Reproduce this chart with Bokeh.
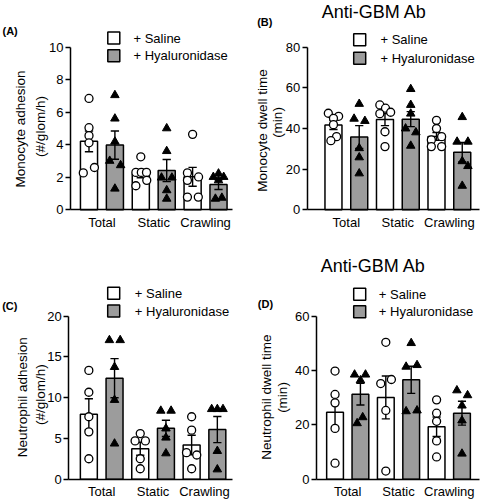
from bokeh.plotting import figure
from bokeh.models import Range1d, Label, LinearAxis, FixedTicker
from bokeh.layouts import row, column
from bokeh.embed import file_html
from bokeh.resources import INLINE

FONT = "Liberation Sans"
GRAY = "#9c9c9c"

groups = ["Total", "Static", "Crawling"]
series = ["+ Saline", "+ Hyaluronidase"]
title_text = "Anti-GBM Ab"

# ---------------- Panel A: Monocyte adhesion (#/glom/h)
a_sal_mean = [4.21, 2.22, 2.03]
a_sal_sem = [0.64, 0.25, 0.58]
a_hya_mean = [3.98, 2.41, 1.55]
a_hya_sem = [0.87, 0.68, 0.30]
a_sal_pts = [[6.85, 5.05, 4.56, 4.12, 2.60, 2.27],
             [3.26, 2.30, 2.30, 2.30, 1.81, 1.48],
             [4.64, 2.27, 2.02, 1.81, 0.78, 0.78]]
a_hya_pts = [[7.05, 5.61, 4.19, 3.01, 2.74, 1.30],
             [5.01, 3.61, 1.98, 1.98, 1.20, 0.68],
             [2.23, 2.02, 2.02, 1.81, 0.74, 0.68]]
a_yticks = [0, 2, 4, 6, 8, 10]

# ---------------- Panel B: Monocyte dwell time (min)
b_sal_mean = [41.7, 44.4, 36.1]
b_sal_sem = [2.2, 3.0, 1.9]
b_hya_mean = [35.8, 44.6, 28.3]
b_hya_sem = [5.6, 3.7, 4.8]
b_sal_pts = [[47.5, 46.0, 45.0, 41.9, 36.0, 34.0],
             [51.6, 50.0, 48.0, 47.3, 38.4, 31.1],
             [44.0, 40.0, 36.0, 34.4, 31.1, 31.1]]
b_hya_pts = [[52.1, 44.8, 43.7, 30.3, 25.8, 17.9],
             [59.4, 51.6, 47.3, 40.0, 38.1, 31.5],
             [45.6, 33.5, 33.5, 23.9, 21.5, 11.8]]
b_yticks = [0, 20, 40, 60, 80]

# ---------------- Panel C: Neutrophil adhesion (#/glom/h)
c_sal_mean = [7.97, 3.74, 4.20]
c_sal_sem = [1.9, 0.8, 1.2]
c_hya_mean = [12.39, 6.24, 6.09]
c_hya_sem = [2.4, 1.0, 1.6]
c_sal_pts = [[13.35, 10.67, 7.66, 5.81, 2.51],
             [5.60, 4.70, 4.70, 2.51, 1.28],
             [7.66, 6.02, 3.26, 2.97, 1.28]]
c_hya_pts = [[17.06, 17.06, 13.76, 9.72, 4.37],
             [8.40, 8.40, 6.22, 5.10, 3.17],
             [8.60, 8.60, 8.60, 3.46, 1.20]]
c_yticks = [0, 5, 10, 15, 20]

# ---------------- Panel D: Neutrophil dwell time (min)
d_sal_mean = [24.6, 30.1, 19.3]
d_sal_sem = [5.8, 7.9, 3.6]
d_hya_mean = [31.3, 36.6, 24.3]
d_hya_sem = [4.0, 5.0, 4.4]
d_sal_pts = [[39.8, 31.2, 28.1, 18.7, 5.9],
             [50.4, 36.7, 35.2, 25.3, 3.0],
             [29.2, 24.3, 21.3, 14.1, 8.2]]
d_hya_pts = [[38.5, 38.5, 36.4, 22.8, 20.6],
             [50.1, 42.0, 41.4, 25.3, 25.0],
             [32.7, 30.9, 27.1, 21.6, 9.4]]
d_yticks = [0, 20, 40, 60]

# horizontal scatter of the dots inside each bar (style, in bar-slot units)
a_sal_jit = [[0, 0, 0, 0, 0.21, -0.22], [0, -0.19, 0.02, 0.22, 0.23, -0.19], [0, -0.2, 0.23, -0.2, -0.2, 0.22]]
a_hya_jit = [[0, 0, 0, -0.2, 0.22, 0], [0, 0, -0.2, 0.2, 0, 0], [0, -0.2, 0.2, 0, 0.13, -0.12]]
b_sal_jit = [[-0.2, 0.2, 0.0, 0.0, 0.12, -0.1], [-0.2, 0.02, 0.22, -0.2, 0, 0], [0, 0, 0.2, -0.2, -0.2, 0.2]]
b_hya_jit = [[0, -0.2, 0.22, 0, 0, 0], [0, 0, 0, -0.2, 0.2, 0], [0, -0.2, 0.22, 0, 0.22, 0]]
c_sal_jit = [[0, 0, 0, 0, 0], [0, -0.2, 0.2, 0, 0], [0, 0, -0.2, 0.2, 0]]
c_hya_jit = [[-0.2, 0.22, 0, 0, 0], [-0.2, 0.2, 0, 0, 0], [-0.22, 0, 0.22, 0, 0]]
d_sal_jit = [[0, 0, 0, 0, 0], [0, 0.22, -0.2, 0, 0], [0, 0, 0, 0, 0]]
d_hya_jit = [[-0.23, 0.2, 0, 0.09, -0.13], [0, 0.23, -0.2, 0.23, -0.2], [-0.2, 0.22, 0, 0, 0]]


def txt(p, x, y, text, size="13px", align="left", angle=0, style="normal"):
    p.add_layout(Label(x=x, y=y, text=text, angle=angle, angle_units="deg",
                       text_align=align, text_baseline="middle", text_font=FONT,
                       text_font_size=size, text_font_style=style, text_color="black"))


def make_panel(w, h, L, R, T, B, xr, ymax, yticks,
               sal_mean, sal_sem, hya_mean, hya_sem,
               sal_pts, hya_pts, sal_jit, hya_jit,
               ylab1, ylab2, ylab_px, tag, tag_px, title_px, leg_px):
    # axes span pixels L..R, T..B; the frame covers the whole figure
    ux = (xr[1] - xr[0]) / (R - L)
    uy = ymax / (B - T)
    p = figure(width=w, height=h,
               x_range=Range1d(xr[0] - L * ux, xr[1] + (w - R) * ux),
               y_range=Range1d(-(h - B) * uy, ymax + T * uy),
               output_backend="svg", toolbar_location=None,
               x_axis_location=None, y_axis_location=None,
               min_border_left=0, min_border_right=0, min_border_top=0,
               min_border_bottom=0, outline_line_color=None,
               background_fill_color="white", border_fill_color="white")
    p.title.visible = False
    p.xgrid.visible = False
    p.ygrid.visible = False

    def dx(px):
        return xr[0] + (px - L) * ux

    def dy(py):
        return (B - py) * uy

    n = len(groups)
    xs_sal = [2 * i for i in range(n)]
    xs_hya = [2 * i + 1 for i in range(n)]
    bw = 0.66
    p.vbar(x=xs_sal, top=sal_mean, width=bw, fill_color="white",
           line_color="black", line_width=1.5)
    p.vbar(x=xs_hya, top=hya_mean, width=bw, fill_color=GRAY,
           line_color="black", line_width=1.5)

    # error bars (mean +/- SEM)
    ex = xs_sal + xs_hya
    em = sal_mean + hya_mean
    es = sal_sem + hya_sem
    lo = [m - s for m, s in zip(em, es)]
    hi = [m + s for m, s in zip(em, es)]
    cw = 0.16
    p.segment(x0=ex, y0=lo, x1=ex, y1=hi, line_color="black", line_width=1.4)
    p.segment(x0=[x - cw for x in ex], y0=hi, x1=[x + cw for x in ex], y1=hi,
              line_color="black", line_width=1.4)
    p.segment(x0=[x - cw for x in ex], y0=lo, x1=[x + cw for x in ex], y1=lo,
              line_color="black", line_width=1.4)

    # individual animals
    px_s, py_s, px_h, py_h = [], [], [], []
    for i in range(n):
        for v, j in zip(sal_pts[i], sal_jit[i]):
            px_s.append(xs_sal[i] + j)
            py_s.append(v)
        for v, j in zip(hya_pts[i], hya_jit[i]):
            px_h.append(xs_hya[i] + j)
            py_h.append(v)
    p.scatter(px_s, py_s, marker="circle", size=8, fill_color="white",
              line_color="black", line_width=1.3)
    p.scatter(px_h, py_h, marker="triangle", size=8.5, fill_color="black",
              line_color="black", line_width=1)

    # axes, drawn at fixed data locations
    ya = LinearAxis(fixed_location=xr[0], bounds=(0, ymax),
                    ticker=FixedTicker(ticks=yticks))
    ya.minor_tick_line_color = None
    ya.major_tick_out = 5
    ya.major_tick_in = 0
    ya.major_label_standoff = 2
    ya.axis_line_width = 1.5
    ya.major_tick_line_width = 1.5
    ya.major_label_text_font = FONT
    ya.major_label_text_font_size = "13px"
    ya.major_label_text_color = "black"
    p.add_layout(ya, "left")

    xa = LinearAxis(fixed_location=0, bounds=xr,
                    ticker=FixedTicker(ticks=[0.5, 2.5, 4.5]))
    xa.major_label_overrides = {0.5: groups[0], 2.5: groups[1], 4.5: groups[2]}
    xa.minor_tick_line_color = None
    xa.major_tick_line_color = None
    xa.major_tick_out = 0
    xa.major_tick_in = 0
    xa.major_label_standoff = 5
    xa.axis_line_width = 1.5
    xa.major_label_text_font = FONT
    xa.major_label_text_font_size = "13px"
    xa.major_label_text_color = "black"
    p.add_layout(xa, "below")

    # y-axis titles (two lines)
    txt(p, dx(ylab_px[0]), dy(ylab_px[1]), ylab1, size="13.5px", align="center", angle=90)
    txt(p, dx(ylab_px[2]), dy(ylab_px[3]), ylab2, size="13.5px", align="center", angle=90)
    # panel tag and title
    txt(p, dx(tag_px[0]), dy(tag_px[1]), tag, size="11px", style="bold")
    if title_px is not None:
        txt(p, dx(title_px[0]), dy(title_px[1]), title_text, size="18px", align="center")

    # legend keys
    kx, ky1, ky2, tx = leg_px
    p.scatter([dx(kx)], [dy(ky1)], marker="square", size=12, fill_color="white",
              line_color="black", line_width=1.5)
    p.scatter([dx(kx)], [dy(ky2)], marker="square", size=12, fill_color=GRAY,
              line_color="black", line_width=1.5)
    txt(p, dx(tx), dy(ky1), series[0])
    txt(p, dx(tx), dy(ky2), series[1])
    return p


pA = make_panel(240, 250, 70, 232, 46.7, 209.3, (-0.714, 5.54), 10, a_yticks,
                a_sal_mean, a_sal_sem, a_hya_mean, a_hya_sem,
                a_sal_pts, a_hya_pts, a_sal_jit, a_hya_jit,
                "Monocyte adhesion", "(#/glom/h)", (20, 128.5, 40, 126),
                "(A)", (2, 30), None, (113.3, 37.5, 55.2, 133))
pB = make_panel(240, 250, 66.7, 239, 46.7, 209.3, (-1.02, 5.67), 80, b_yticks,
                b_sal_mean, b_sal_sem, b_hya_mean, b_hya_sem,
                b_sal_pts, b_hya_pts, b_sal_jit, b_hya_jit,
                "Monocyte dwell time", "(min)", (21.5, 130, 36.5, 122),
                "(B)", (16.7, 21.7), (133.8, 11.5), (119.2, 39.3, 57.7, 140))
pC = make_panel(240, 249, 68.3, 232, 65.7, 228.7, (-0.78, 5.59), 20, c_yticks,
                c_sal_mean, c_sal_sem, c_hya_mean, c_hya_sem,
                c_sal_pts, c_hya_pts, c_sal_jit, c_hya_jit,
                "Neutrophil adhesion", "(#/glom/h)", (21.7, 146.7, 40, 144.2),
                "(C)", (1.7, 55), None, (113.2, 42.8, 60.5, 134.3))
pD = make_panel(240, 249, 76, 239, 65.7, 228.7, (-0.73, 5.69), 60, d_yticks,
                d_sal_mean, d_sal_sem, d_hya_mean, d_hya_sem,
                d_sal_pts, d_hya_pts, d_sal_jit, d_hya_jit,
                "Neutrophil dwell time", "(min)", (25.5, 146.7, 42, 147),
                "(D)", (17.3, 53.3), (132.7, 15), (119.2, 43.8, 61.3, 138.3))

layout = column(row(pA, pB), row(pC, pD))
open("out.html", "w").write(file_html(layout, INLINE))
